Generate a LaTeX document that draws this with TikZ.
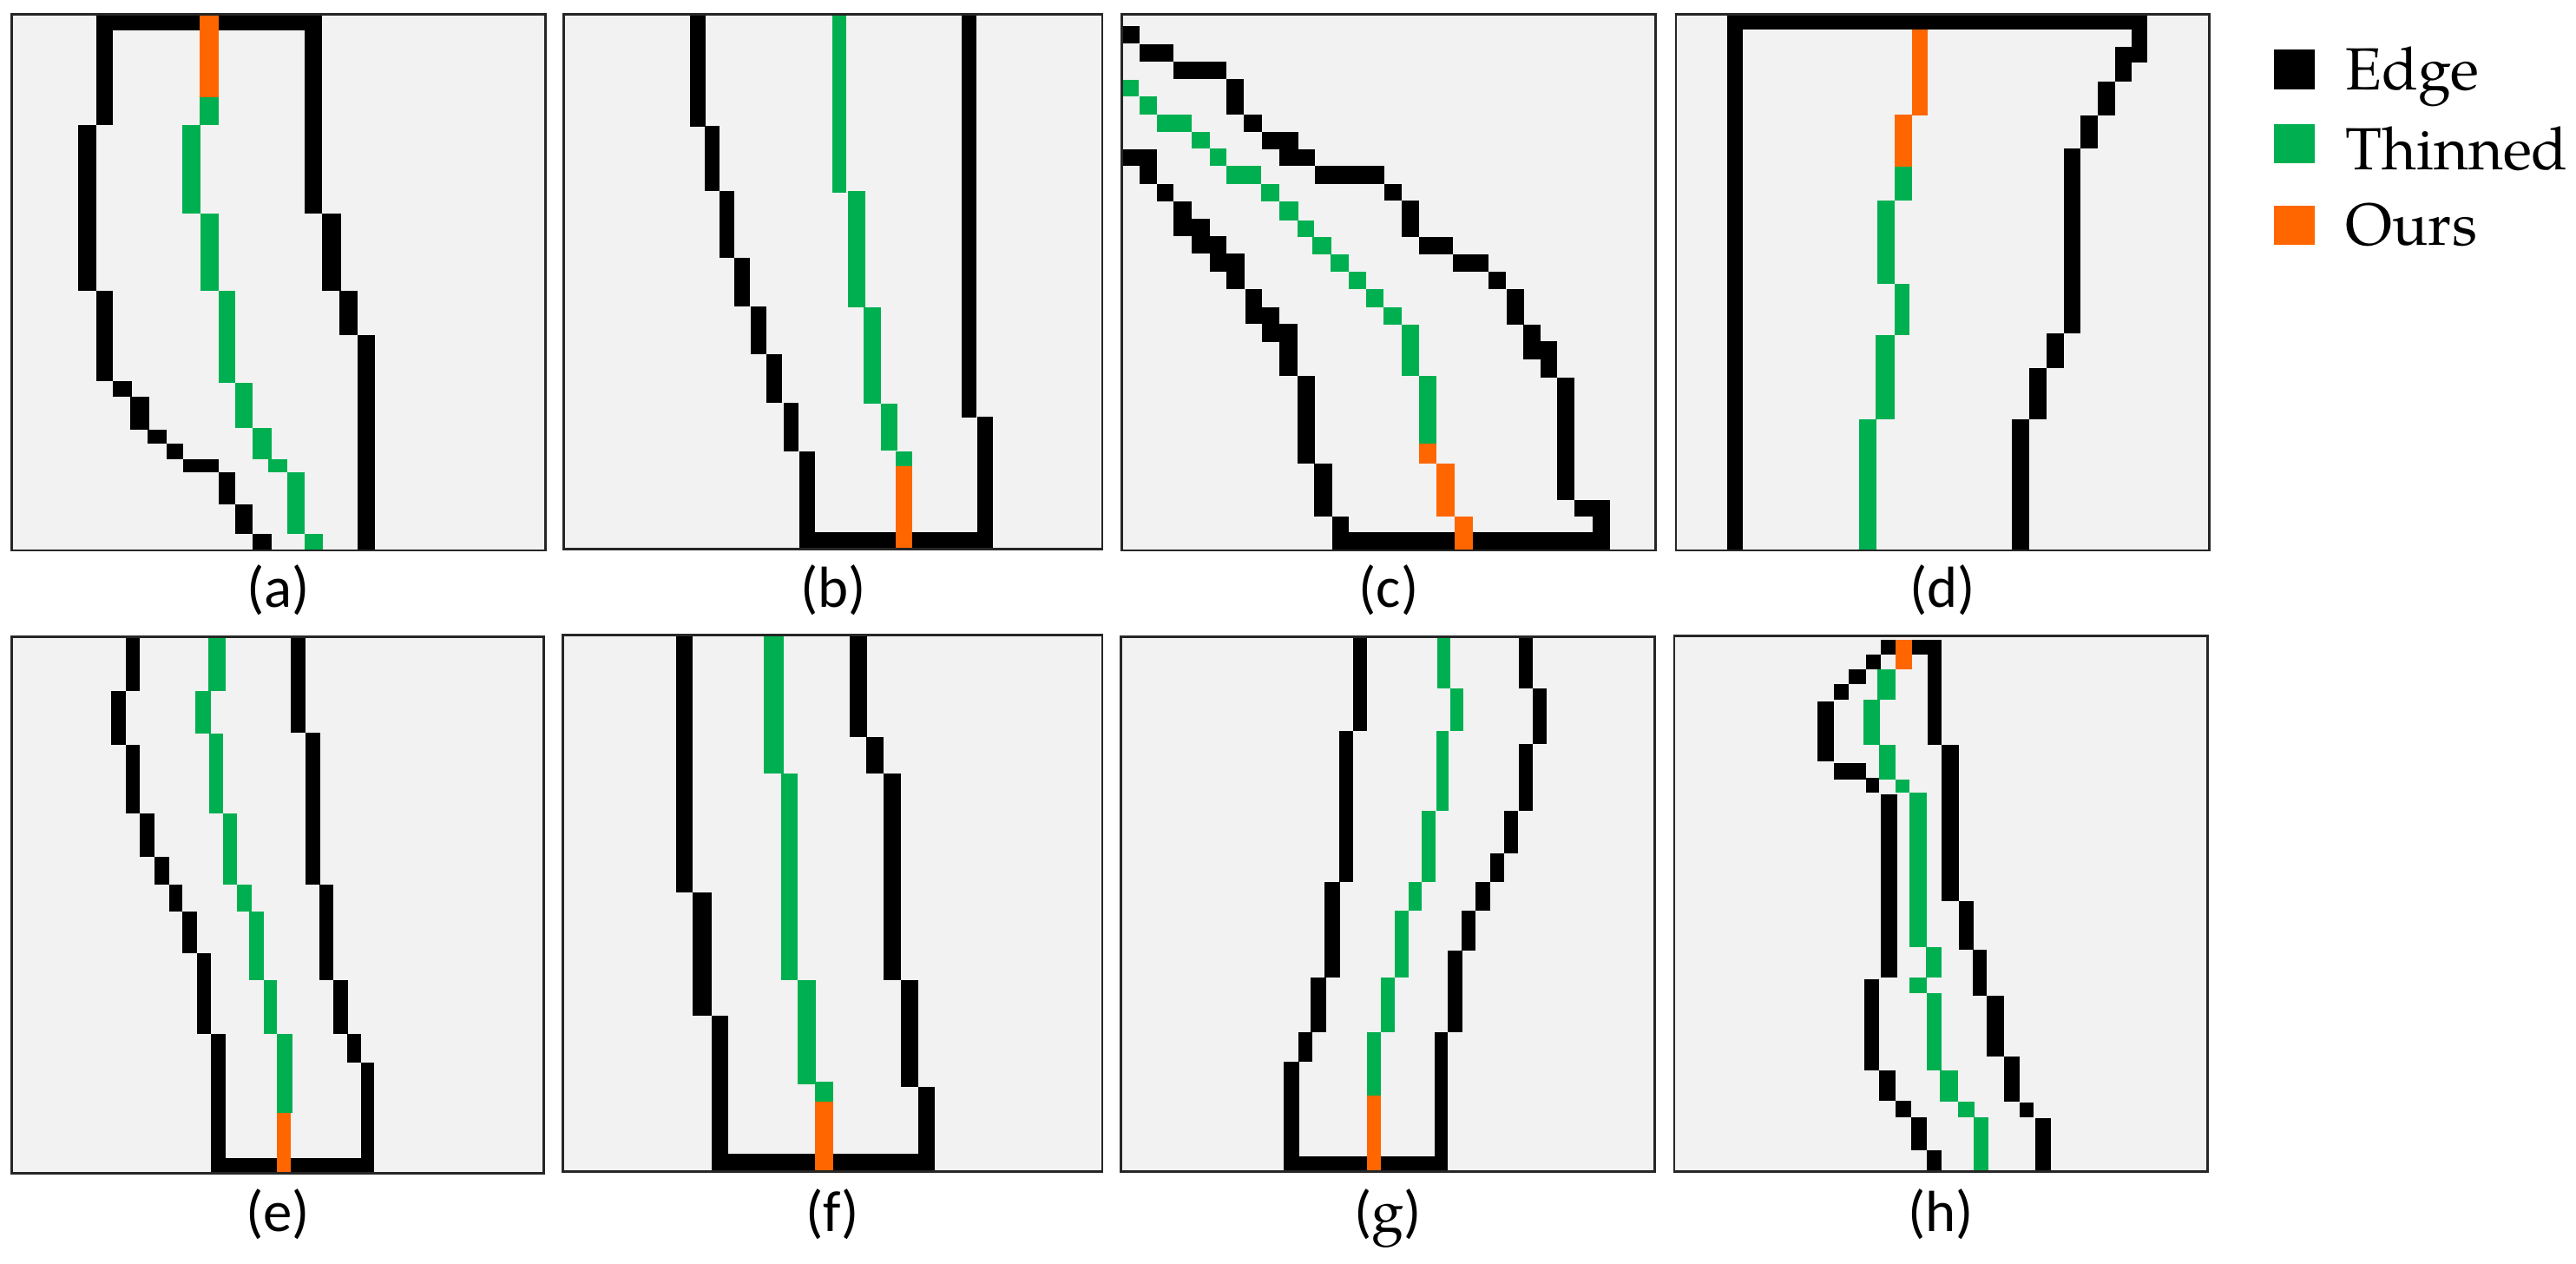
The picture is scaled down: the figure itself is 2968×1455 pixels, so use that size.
\documentclass[tikz,border=0pt]{standalone}
\usepackage{fontspec}
\newfontfamily\lblfont{Carlito}
\newfontfamily\legfont{TeX Gyre Pagella}
\definecolor{thinc}{HTML}{00B050}
\definecolor{ourc}{HTML}{FF6600}
\definecolor{bgc}{HTML}{F2F2F2}
\definecolor{framec}{HTML}{262626}
\tikzset{
  edgepx/.style={fill=black},
  thinpx/.style={fill=thinc},
  ourpx/.style={fill=ourc},
  panelbg/.style={fill=bgc},
  framebox/.style={draw=framec, line width=0.8pt},
  sublabel/.style={anchor=base, inner sep=0pt, font=\lblfont\fontsize{19}{22}\selectfont},
  legtext/.style={anchor=base west, inner sep=0pt, font=\legfont\fontsize{19.5}{23}\selectfont},
}
\newcommand\drawpanel[6]{%
\begin{scope}[shift={(#1,#2)},xscale=0.42088,yscale=0.44643]
  \foreach \a/\b/\c/\d in {#3} {\fill[panelbg] (\a,\b) rectangle (\c,\d);}
  \foreach \a/\b/\c/\d in {#4} {\fill[edgepx] (\a,\b) rectangle (\c,\d);}
  \foreach \a/\b/\c/\d in {#5} {\fill[thinpx] (\a,\b) rectangle (\c,\d);}
  \foreach \a/\b/\c/\d in {#6} {\fill[ourpx] (\a,\b) rectangle (\c,\d);}
  \foreach \a/\b/\c/\d in {#3} {\draw[framebox] (\a,\b) rectangle (\c,\d);}
\end{scope}}
\begin{document}
\begin{tikzpicture}[x=0.1mm, y=-0.1mm]
\useasboundingbox (0,0) rectangle (2968,1455);
\fill[white] (0,0) rectangle (2968,1455);

% (a)
\drawpanel{0}{0}{33/37/1493/1420}
{263/37/882/78, 263/37/310/322, 213/322/263/750, 263/750/310/983, 310/983/360/1023, 357/1023/408/1108, 405/1108/455/1145, 455/1145/502/1185, 502/1185/598/1218, 598/1218/645/1302, 645/1302/692/1377, 692/1377/743/1420, 835/37/882/552, 882/552/933/750, 930/750/980/865, 980/865/1027/1420}
{547/250/598/322, 500/322/550/552, 550/552/598/750, 598/750/645/987, 645/987/692/1105, 692/1105/743/1185, 735/1185/787/1218, 787/1218/835/1377, 835/1377/883/1420}
{547/37/598/250}

% (b)
\drawpanel{640}{0}{22/37/1497/1417}
{368/37/410/327, 408/325/450/493, 450/493/490/665, 490/665/532/790, 535/790/578/913, 578/913/620/1040, 625/1040/665/1165, 668/1165/710/1417, 668/1373/1197/1417, 1112/37/1152/1078, 1155/1075/1197/1417}
{757/37/797/497, 800/493/848/792, 843/792/890/1042, 890/1042/935/1163, 932/1165/977/1205}
{932/1203/977/1417}

% (c)
\drawpanel{1280}{0}{30/37/1490/1420}
{30/68/78/112, 78/115/172/158, 172/158/317/203, 317/203/363/295, 363/295/413/340, 413/340/512/385, 462/385/558/428, 558/428/748/475, 748/475/797/518, 797/518/843/612, 843/612/937/657, 937/657/1033/700, 1033/700/1080/745, 1083/745/1130/837, 1128/837/1175/928, 1175/880/1220/975, 1222/975/1268/1290, 1268/1290/1365/1332, 1318/1290/1365/1417, 605/1372/1365/1417, 30/385/125/428, 78/428/125/475, 125/475/172/520, 172/520/222/610, 222/565/270/610, 222/610/317/655, 270/655/365/700, 317/700/365/745, 368/745/413/835, 413/793/462/835, 413/835/510/883, 462/883/510/970, 510/970/558/1195, 555/1195/605/1332, 605/1332/652/1417}
{30/205/75/248, 78/248/125/295, 125/295/222/340, 220/340/270/383, 270/383/317/428, 317/428/410/475, 410/475/462/520, 462/520/512/568, 510/568/555/612, 552/612/603/657, 600/657/650/700, 650/700/698/745, 698/745/745/792, 745/792/797/837, 797/837/843/970, 843/970/890/1145}
{843/1145/890/1197, 890/1197/940/1332, 940/1332/990/1417}

% (d)
\drawpanel{1910}{0}{50/37/1510/1420}
{190/37/1340/75, 190/37/232/1420, 1298/37/1340/162, 1252/122/1340/162, 1252/162/1298/210, 1205/210/1252/298, 1158/298/1205/383, 1112/383/1158/860, 1065/860/1112/950, 1018/950/1065/1082, 970/1082/1018/1420}
{648/428/695/517, 600/517/648/733, 648/733/690/865, 597/865/648/1082, 550/1082/598/1420}
{695/75/740/298, 648/295/695/430}

% (e)
\drawpanel{0}{720}{33/30/1488/1415}
{345/30/383/170, 305/170/345/310, 345/310/383/487, 383/487/422/597, 422/597/463/670, 463/670/500/740, 500/740/540/847, 540/847/577/1055, 577/1055/617/1415, 577/1375/1025/1415, 797/30/837/277, 837/277/877/670, 875/670/913/915, 913/915/952/1055, 950/1055/988/1130, 988/1130/1025/1415}
{570/30/617/170, 535/170/577/280, 573/280/610/487, 610/487/648/670, 648/670/688/740, 683/740/723/915, 722/915/758/1055, 758/1055/800/1258}
{758/1258/797/1415}

% (f)
\drawpanel{640}{720}{20/25/1497/1410}
{330/25/375/690, 375/690/427/1008, 427/1008/473/1410, 427/1365/1038/1410, 805/25/853/288, 850/288/897/383, 897/383/945/915, 945/915/992/1192, 992/1192/1038/1410}
{570/25/625/383, 617/383/663/915, 663/915/712/1185, 710/1178/760/1230}
{710/1230/760/1410}

% (g)
\drawpanel{1280}{720}{28/30/1488/1410}
{663/30/702/273, 625/273/663/663, 585/663/628/910, 547/910/588/1050, 512/1050/550/1127, 473/1127/515/1410, 473/1370/922/1410, 1117/30/1155/163, 1155/163/1193/307, 1117/307/1155/480, 1077/480/1115/590, 1038/590/1077/663, 998/663/1038/737, 960/737/998/840, 922/840/963/1050, 885/1050/922/1410}
{893/30/930/163, 930/163/965/273, 890/273/925/480, 850/480/888/663, 815/663/850/737, 778/737/815/910, 740/910/778/1050, 702/1050/740/1215}
{702/1215/740/1410}

% (h)
\drawpanel{1910}{720}{45/28/1505/1410}
{610/37/652/75, 695/37/778/75, 738/37/778/310, 570/75/610/115, 523/115/570/153, 483/153/523/193, 437/197/483/352, 483/355/570/398, 570/395/605/433, 610/437/655/910, 565/913/605/1150, 605/1150/650/1228, 650/1228/693/1270, 693/1270/737/1355, 737/1355/778/1410, 778/310/825/712, 825/712/865/837, 862/837/900/957, 900/957/947/1113, 947/1113/990/1230, 990/1233/1028/1270, 1033/1273/1077/1410}
{600/115/650/193, 562/193/607/310, 605/310/650/398, 650/398/690/433, 690/433/737/832, 733/832/778/910, 690/910/737/950, 737/950/778/1148, 772/1148/823/1230, 823/1230/868/1270, 865/1270/905/1410}
{652/37/695/115}

% sub-labels
\node[sublabel] (la) at (321,699) {(a)};
\node[sublabel] (lb) at (960,699) {(b)};
\node[sublabel] (lc) at (1600,699) {(c)};
\node[sublabel] (ld) at (2238,699) {(d)};
\node[sublabel] (le) at (320,1418) {(e)};
\node[sublabel] (lf) at (959,1418) {(f)};
\node[sublabel] (lg) at (1599,1418) {({\legfont g})};
\node[sublabel] (lh) at (2236,1418) {(h)};

% legend
\fill[edgepx] (2620,57) rectangle (2667,103);
\fill[thinpx] (2620,143) rectangle (2667,188);
\fill[ourpx] (2620,237) rectangle (2667,282);
\node[legtext] (kedge) at (2702,103) {Edge};
\node[legtext] (kthin) at (2702,195) {Thinned};
\node[legtext] (kours) at (2702,282) {Ours};
\end{tikzpicture}
\end{document}
